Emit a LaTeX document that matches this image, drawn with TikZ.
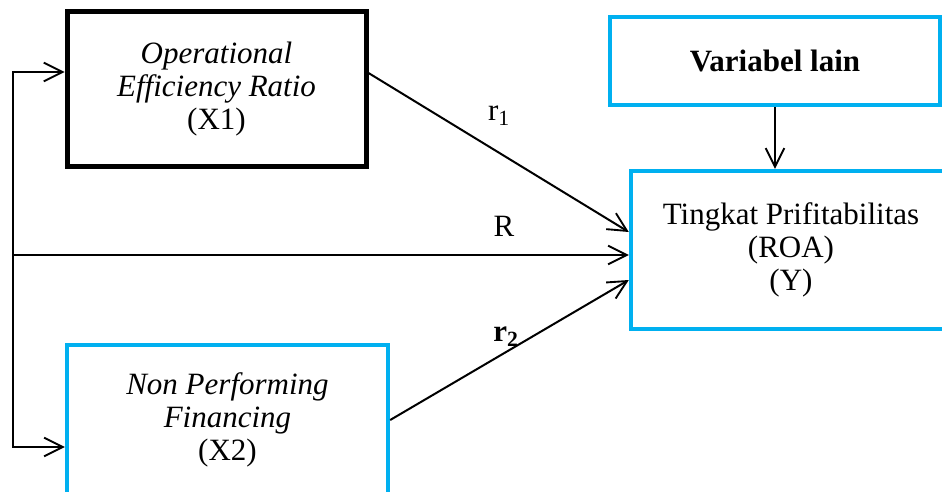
\documentclass[tikz,border=0pt]{standalone}
\usepackage{fontspec}
\setmainfont{Liberation Serif}
\usetikzlibrary{arrows.meta,calc}
\definecolor{skyb}{HTML}{00B0F0}
\begin{document}
\begin{tikzpicture}[x=0.75pt,y=-0.75pt,
  font=\fontsize{23.25}{24.75}\selectfont,
  box/.style={draw, rectangle, align=center, inner sep=0pt, outer sep=auto},
  blackbox/.style={box, line width=3.75pt},
  bluebox/.style={box, draw=skyb, line width=3.3pt},
  conn/.style={line width=1.5pt, -{Straight Barb[length=14pt,width=14pt,line width=1.4pt]}},
  lbl/.style={inner sep=0pt}]
\useasboundingbox (0,0) rectangle (942,492);
% boxes
\node[blackbox, minimum width=224.25pt, minimum height=115.5pt] (X1) at (216.5,89)
  {\textit{Operational}\\\textit{Efficiency Ratio}\\(X1)};
\node[bluebox, minimum width=240.75pt, minimum height=112.5pt] (X2) at (227.5,420)
  {\textit{Non Performing}\\\textit{Financing}\\(X2)};
\node[bluebox, minimum width=247.5pt, minimum height=66pt] (V) at (775,61)
  {\textbf{Variabel lain}};
\node[bluebox, minimum width=240pt, minimum height=118.5pt] (Y) at (791,250)
  {Tingkat Prifitabilitas\\(ROA)\\(Y)};
% left bracket line
\coordinate (top) at (13,72);
\coordinate (mid) at (13,255);
\coordinate (bot) at (13,447);
\draw[line width=1.5pt, {Straight Barb[length=14pt,width=14pt,line width=1.4pt]}-{Straight Barb[length=14pt,width=14pt,line width=1.4pt]}]
  (top -| X1.west) -- (top) -- (bot) -- (bot -| X2.west);
\draw[conn] (mid) -- (mid -| Y.west);
% diagonal connectors
\draw[conn] ([yshift=12pt]X1.east) -- ([yshift=13.5pt]Y.west);
\draw[conn] (X2.east) -- ([yshift=-22.5pt]Y.west);
\draw[conn] (V.south) -- (V.south |- Y.north);
% labels
\node[lbl] (r1) at (499,116) {r\textsubscript{1}};
\node[lbl] (R) at (504,226) {R};
\node[lbl] (r2) at (506,337) {\textbf{r\textsubscript{2}}};
\end{tikzpicture}
\end{document}
